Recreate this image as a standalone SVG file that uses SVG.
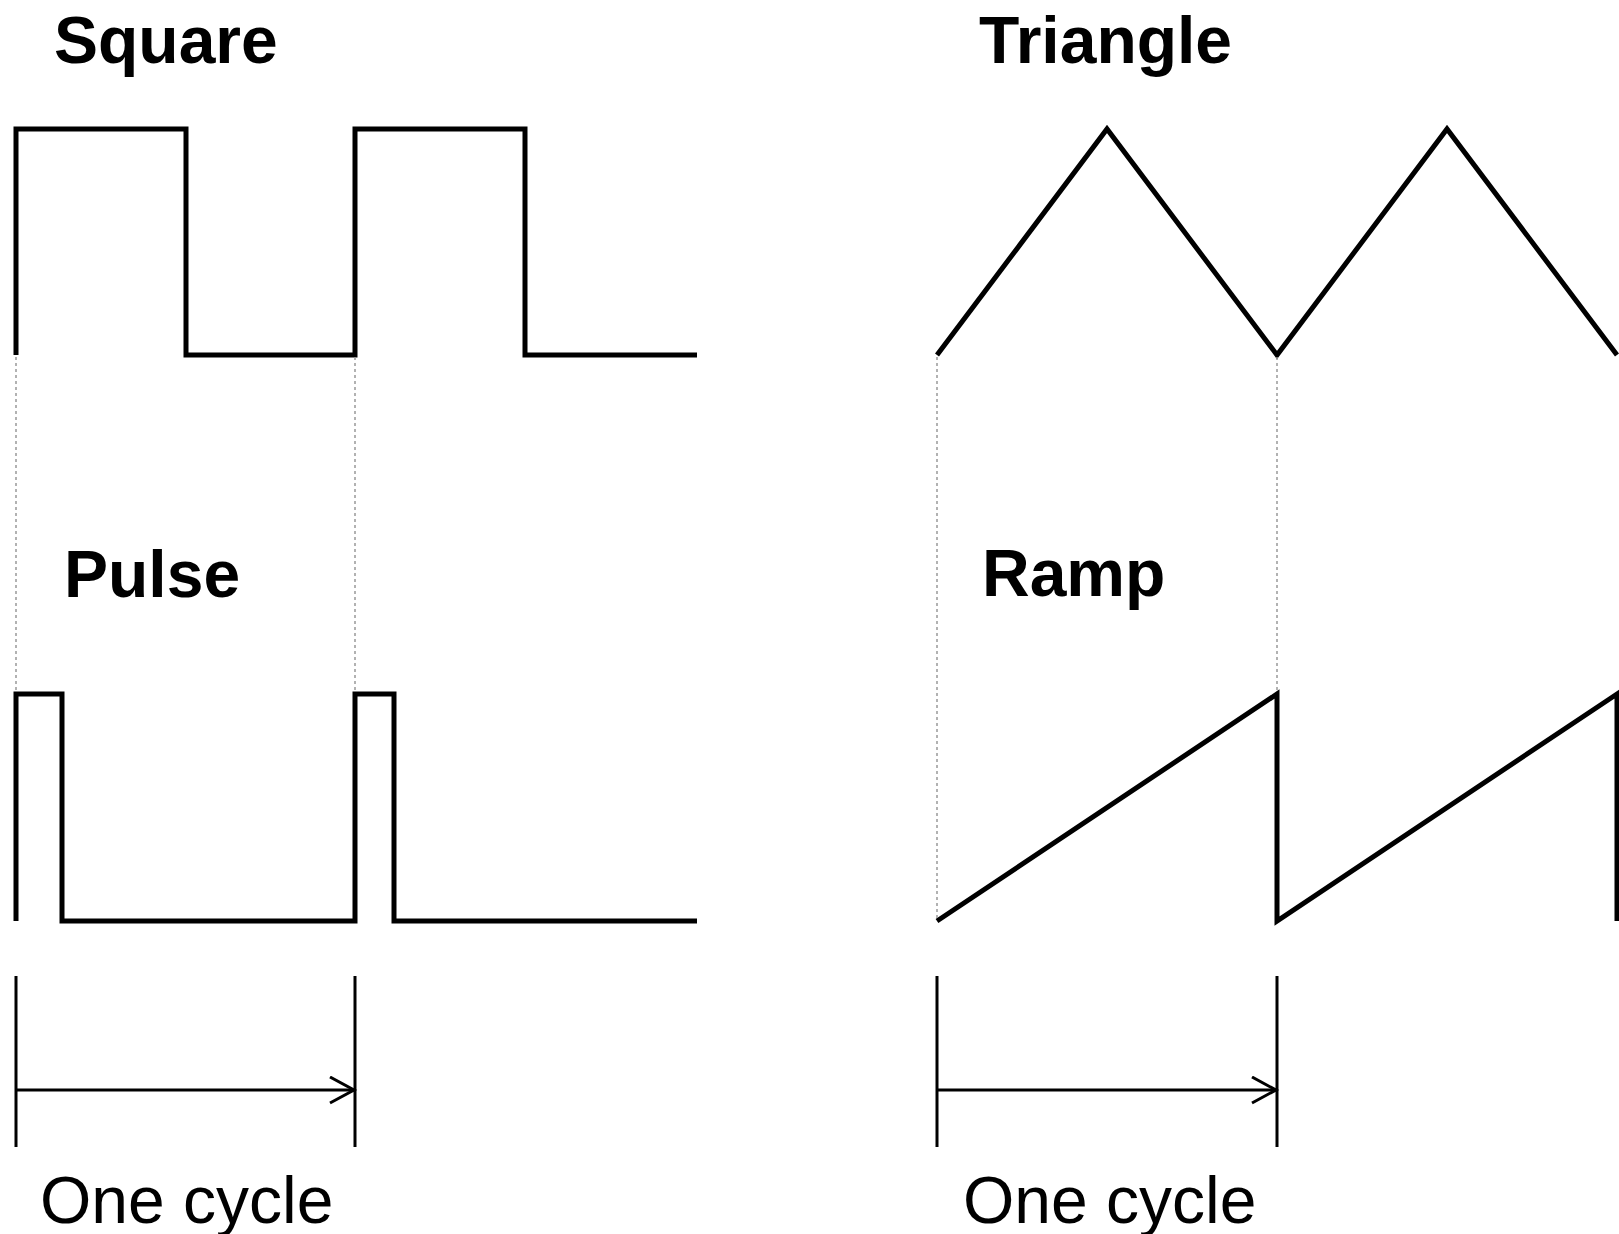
<svg xmlns="http://www.w3.org/2000/svg" width="1619" height="1234" viewBox="0 0 1619 1234">
<style>
.wave{fill:none;stroke:#000;stroke-width:5;stroke-linejoin:miter;stroke-linecap:butt}
.guide{fill:none;stroke:#999;stroke-width:1.5;stroke-dasharray:3 3}
.mark{fill:none;stroke:#000;stroke-width:3}
.title{font-family:"Liberation Sans",Arial,sans-serif;font-weight:bold;font-size:66px;fill:#000}
.label{font-family:"Liberation Sans",Arial,sans-serif;font-size:66px;fill:#000}
</style>
<defs>
<marker id="open" markerWidth="30" markerHeight="30" refX="25" refY="14" orient="auto" markerUnits="userSpaceOnUse">
<path d="M1,1 L25,14 L1,27" fill="none" stroke="#000" stroke-width="3"/>
</marker>
</defs>
<rect width="1619" height="1234" fill="#fff"/>
<g id="square">
<text class="title" x="54" y="63">Square</text>
<path class="wave" d="M16,355 V129 H186 V355 H355 V129 H525 V355 H697"/>
</g>
<g id="triangle">
<text class="title" x="979" y="63">Triangle</text>
<path class="wave" d="M937,355 L1107,129 L1277,355 L1447,129 L1617,355"/>
</g>
<g id="pulse">
<text class="title" x="64" y="597">Pulse</text>
<path class="wave" d="M16,921 V694 H62 V921 H355 V694 H394 V921 H697"/>
</g>
<g id="ramp">
<text class="title" x="982" y="596">Ramp</text>
<path class="wave" d="M937,921 L1277,694 V921 L1617,694 V921"/>
</g>
<g id="connectors">
<path class="guide" d="M16,357 V692 M355,357 V692 M937,357 V919 M1277,357 V692"/>
<path class="mark" d="M16,976 V1147 M355,976 V1147"/>
<path class="mark" d="M16,1090 H354" marker-end="url(#open)"/>
<path class="mark" d="M937,976 V1147 M1277,976 V1147"/>
<path class="mark" d="M937,1090 H1276" marker-end="url(#open)"/>
</g>
<g id="cycle-left">
<text class="label" x="40" y="1223">One cycle</text>
</g>
<g id="cycle-right">
<text class="label" x="963" y="1223">One cycle</text>
</g>
</svg>
